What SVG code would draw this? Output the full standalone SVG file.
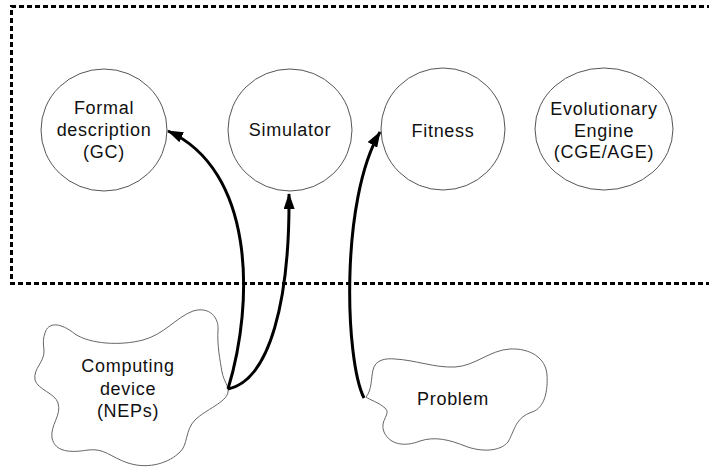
<svg xmlns="http://www.w3.org/2000/svg" width="709" height="468" viewBox="0 0 709 468">
<defs>
<style>
.node{fill:#fff;stroke:#555;stroke-width:1}
.cloud{fill:#fff;stroke:#666;stroke-width:1}
.t{font-family:"Liberation Sans",Arial,sans-serif;font-size:18px;letter-spacing:0.7px;fill:#111;text-anchor:middle}
.c{fill:none;stroke:#000;stroke-width:3}
.box{fill:none;stroke:#000;stroke-width:3;stroke-dasharray:5 3}
</style>
<marker id="ah" viewBox="0 0 16 11" refX="15" refY="5.5" markerWidth="16" markerHeight="11" markerUnits="userSpaceOnUse" orient="auto">
<path d="M0,0 L16,5.5 L0,11 Z" fill="#000"/>
</marker>
</defs>
<rect width="709" height="468" fill="#fff"/>
<path class="box" d="M720,6.5 H11.5 V283.5 H720"/>
<g id="formal">
<ellipse class="node" cx="104" cy="130" rx="63" ry="61"/>
<text class="t" x="104" y="114">Formal</text>
<text class="t" x="104" y="136">description</text>
<text class="t" x="104" y="158">(GC)</text>
</g>
<g id="simulator">
<ellipse class="node" cx="290" cy="130" rx="62" ry="61"/>
<text class="t" x="290" y="136">Simulator</text>
</g>
<g id="fitness">
<ellipse class="node" cx="443" cy="129" rx="62" ry="61"/>
<text class="t" x="443" y="137">Fitness</text>
</g>
<g id="engine">
<ellipse class="node" cx="604" cy="129" rx="69" ry="61"/>
<text class="t" x="604" y="115">Evolutionary</text>
<text class="t" x="604" y="137">Engine</text>
<text class="t" x="604" y="158">(CGE/AGE)</text>
</g>
<g id="computing">
<path class="cloud" d="M45,333 C48,322 60,322 75,334 C90,344 120,346 143,340 C165,334 175,318 193,311 C210,306 219,318 218,330 C217,345 220,360 222,372 C224,382 229,386 228,392 C227,402 205,410 195,420 C185,430 188,445 180,452 C170,462 150,470 128,463 C110,457 105,448 88,450 C70,453 55,452 52,438 C50,425 62,415 58,403 C55,393 38,390 35,380 C33,368 45,362 44,350 C43,343 43,338 45,333 Z"/>
<text class="t" x="128" y="372">Computing</text>
<text class="t" x="128" y="395">device</text>
<text class="t" x="128" y="417">(NEPs)</text>
</g>
<g id="problem">
<path class="cloud" d="M366,397 C372,390 371,378 373,370 C375,360 385,358 395,359 C415,360 435,368 455,367 C475,366 490,350 510,349 C530,348 546,358 547,375 C548,390 545,408 532,412 C515,418 515,430 508,442 C500,452 480,452 465,446 C450,440 435,436 420,441 C405,447 390,445 384,432 C379,420 392,414 385,408 C378,402 370,400 366,397 Z"/>
<text class="t" x="453" y="405">Problem</text>
</g>
<g id="connectors">
<path class="c" marker-end="url(#ah)" d="M228,389 C255,300 254,170 168,131"/>
<path class="c" marker-end="url(#ah)" d="M228,389 C270,380 290,300 289,194"/>
<path class="c" marker-end="url(#ah)" d="M364,398 C345,360 340,200 380,132"/>
</g>
</svg>
